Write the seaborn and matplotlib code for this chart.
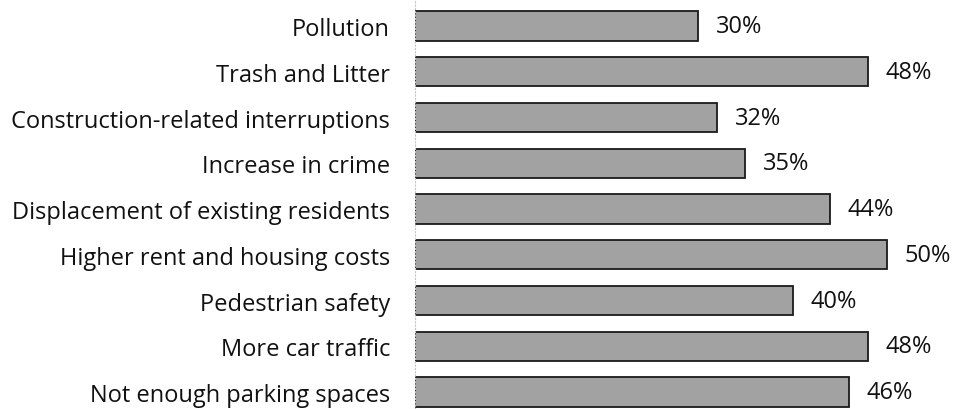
import matplotlib
matplotlib.use("Agg")
import matplotlib.pyplot as plt
import pandas as pd
import seaborn as sns

categories = [
    "Pollution",
    "Trash and Litter",
    "Construction-related interruptions",
    "Increase in crime",
    "Displacement of existing residents",
    "Higher rent and housing costs",
    "Pedestrian safety",
    "More car traffic",
    "Not enough parking spaces",
]
values = [30, 48, 32, 35, 44, 50, 40, 48, 46]

df = pd.DataFrame({"concern": categories, "pct": values})

sns.set_style("white")
plt.rcParams["font.family"] = ["Open Sans", "DejaVu Sans"]

fig = plt.figure(figsize=(9.55, 4.10), dpi=100)
ax = fig.add_axes([415 / 955, 0, 1 - 415 / 955, 1])
sns.barplot(data=df, y="concern", x="pct", orient="h", color="#a2a2a2",
            edgecolor="#1a1a1a", linewidth=1.3, width=0.64, saturation=1, ax=ax)

for i, v in enumerate(values):
    ax.text(v + 1.85, i, f"{v}%", va="center", ha="left", fontsize=17, color="#111111")

ax.set_xlim(0, 57.2)
ax.set_ylim(8.37, -0.59)
ax.set_xlabel("")
ax.set_ylabel("")
ax.set_xticks([])
for s in ["top", "right", "bottom"]:
    ax.spines[s].set_visible(False)
ax.spines["left"].set_color("#c4c4c4")
ax.spines["left"].set_linestyle((0, (1, 2)))
ax.spines["left"].set_linewidth(0.8)
ax.tick_params(axis="y", length=0, pad=18, labelsize=17, labelcolor="#111111")

fig.savefig("out.png", dpi=100)
